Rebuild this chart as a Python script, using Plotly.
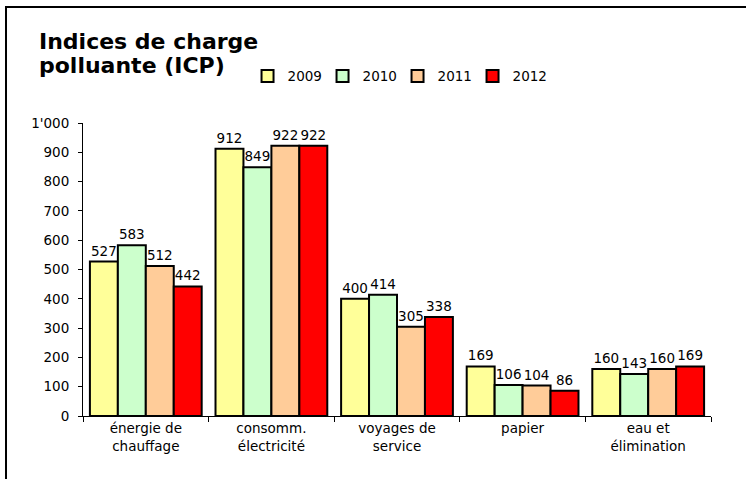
import plotly.graph_objects as go

categories = ["énergie de<br>chauffage", "consomm.<br>électricité", "voyages de<br>service",
              "papier", "eau et<br>élimination"]
years = ["2009", "2010", "2011", "2012"]
values = {
    "2009": [527, 912, 400, 169, 160],
    "2010": [583, 849, 414, 106, 143],
    "2011": [512, 922, 305, 104, 160],
    "2012": [442, 922, 338, 86, 169],
}
colors = {"2009": "#FFFF99", "2010": "#CCFFCC", "2011": "#FFCC99", "2012": "#FF0000"}
ytick_vals = [0, 100, 200, 300, 400, 500, 600, 700, 800, 900, 1000]
ytick_text = ["0", "100", "200", "300", "400", "500", "600", "700", "800", "900", "1'000"]
title_lines = ["Indices de charge", "polluante (ICP)"]

fig = go.Figure()
for y in years:
    fig.add_trace(go.Bar(
        x=categories, y=values[y], name=y,
        marker=dict(color=colors[y], line=dict(color="black", width=2)),
        text=[str(v) for v in values[y]], textposition="outside",
        textfont=dict(size=13.5, color="black"), constraintext="none", cliponaxis=False,
    ))

# chart frame (cut off on right and bottom like the original)
fig.add_shape(type="rect", xref="paper", yref="paper",
              x0=-0.1226, x1=2, y0=-1, y1=1.396,
              line=dict(color="black", width=2), fillcolor="rgba(0,0,0,0)")

# title, two lines placed separately to get the tight line spacing
for txt, ypos in zip(title_lines, [1.278, 1.196]):
    fig.add_annotation(text="<b>" + txt + "</b>", xref="paper", yref="paper",
                       x=-0.0732, y=ypos, xanchor="left", yanchor="middle",
                       showarrow=False, font=dict(family="DejaVu Sans", size=22, color="black"))

fig.update_layout(
    width=746, height=479,
    margin=dict(l=83, r=35, t=123, b=63),
    paper_bgcolor="white", plot_bgcolor="white",
    font=dict(family="DejaVu Sans", size=13.5, color="black"),
    barmode="group", bargap=0.11, bargroupgap=0,
    showlegend=True,
    legend=dict(orientation="h", x=0.262, xanchor="left", y=1.16, yanchor="middle",
                font=dict(size=13.5), bgcolor="rgba(0,0,0,0)",
                entrywidth=30, entrywidthmode="pixels"),
    xaxis=dict(showline=True, linecolor="black", linewidth=1,
               ticks="outside", ticklen=5, tickcolor="black", tickson="boundaries",
               showgrid=False),
    yaxis=dict(range=[0, 1000], tickvals=ytick_vals, ticktext=ytick_text,
               showline=True, linecolor="black", linewidth=1,
               ticks="outside", ticklen=4, tickcolor="black", ticklabelstandoff=6,
               showgrid=False, zeroline=False),
)

fig.write_html("out.html", config={"displayModeBar": False},
               post_script="document.body.style.margin='0px';")
